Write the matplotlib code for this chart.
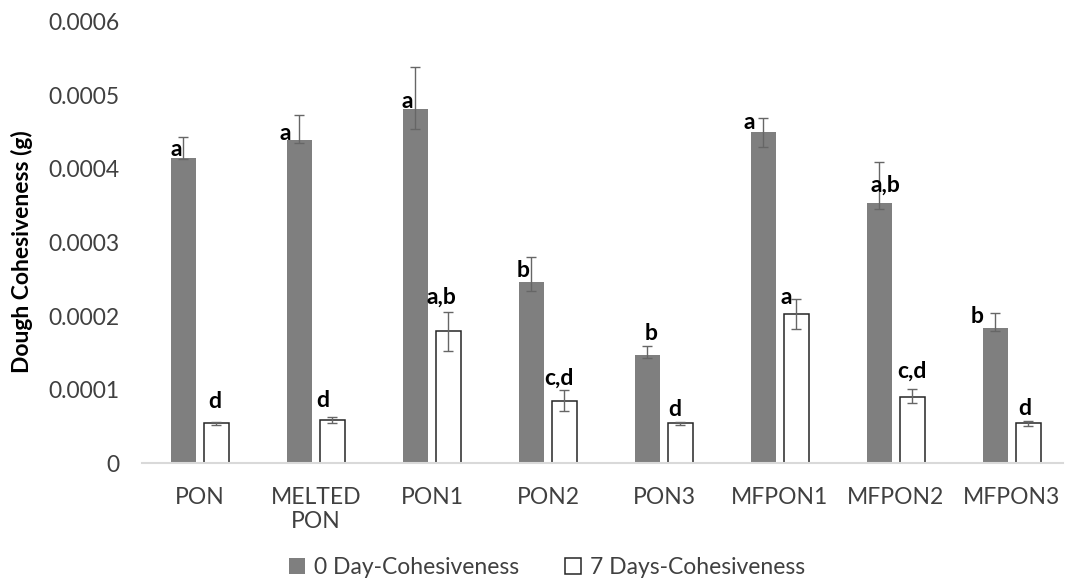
import numpy as np
import matplotlib.pyplot as plt
from matplotlib.ticker import FuncFormatter

plt.rcParams['font.family'] = ['Lato', 'DejaVu Sans']

# data (values in 1e-4 g)
categories = ["PON", "MELTED\nPON", "PON1", "PON2", "PON3", "MFPON1", "MFPON2", "MFPON3"]
day0 = [4.15, 4.39, 4.81, 2.46, 1.47, 4.50, 3.54, 1.84]
day0_err_lo = [0.02, 0.04, 0.27, 0.12, 0.04, 0.20, 0.09, 0.04]
day0_err_hi = [0.29, 0.34, 0.58, 0.34, 0.12, 0.20, 0.55, 0.20]
day7 = [0.54, 0.59, 1.79, 0.85, 0.54, 2.03, 0.90, 0.54]
day7_err_lo = [0.02, 0.04, 0.26, 0.14, 0.02, 0.20, 0.08, 0.03]
day7_err_hi = [0.02, 0.04, 0.26, 0.14, 0.02, 0.20, 0.11, 0.03]
day0_letters = ["a", "a", "a", "b", "b", "a", "a,b", "b"]
day7_letters = ["d", "d", "a,b", "c,d", "d", "a", "c,d", "d"]

# label offsets in pixels from bar top (hand placed like the original)
day0_off = [(-7, 8), (-14, 7), (-8, 8), (-8, 12), (4, 21), (-14, 10), (6, 18), (-18, 11)]
day7_off = [(-2, 22), (-10, 19), (-7, 34), (-5, 22), (-6, 14), (-10, 16), (0, 26), (-4, 15)]

scale = 1e-4
x = np.arange(len(categories))
w = 0.22
off = 0.142

fig = plt.figure(figsize=(10.65, 5.83), dpi=100)
ax = fig.add_axes([0.1333, 0.2058, 0.8647, 0.7565])

v0 = np.array(day0) * scale
v7 = np.array(day7) * scale
e0 = np.array([day0_err_lo, day0_err_hi]) * scale
e7 = np.array([day7_err_lo, day7_err_hi]) * scale

ekw = dict(ecolor="#666666", elinewidth=1.0, capsize=3.5, capthick=1.0)
ax.bar(x - off, v0, w, color="#7f7f7f", yerr=e0, error_kw=ekw,
       label="0 Day-Cohesiveness")
ax.bar(x + off, v7, w, color="white", edgecolor="#262626", linewidth=1.1,
       yerr=e7, error_kw=ekw, label="7 Days-Cohesiveness")

for i in range(len(categories)):
    ax.annotate(day0_letters[i], (x[i] - off, v0[i]), xytext=day0_off[i],
                textcoords="offset pixels", ha="center", va="center",
                fontsize=16.5, fontweight="bold", color="black")
    ax.annotate(day7_letters[i], (x[i] + off, v7[i]), xytext=day7_off[i],
                textcoords="offset pixels", ha="center", va="center",
                fontsize=16.5, fontweight="bold", color="black")

ax.set_xlim(-0.5, 7.44)
ax.set_ylim(0, 0.0006)
ax.set_yticks(np.arange(0, 0.00061, 0.0001))
ax.yaxis.set_major_formatter(FuncFormatter(lambda v, p: "0" if abs(v) < 1e-12 else f"{v:.4f}"))
ax.set_xticks(x)
ax.set_xticklabels(categories)
ax.tick_params(axis="both", length=0, labelsize=16.5, labelcolor="#404040")
ax.tick_params(axis="y", pad=16)
ax.tick_params(axis="x", pad=17)

for s in ["top", "right", "left"]:
    ax.spines[s].set_visible(False)
ax.spines["bottom"].set_color("#d9d9d9")
ax.spines["bottom"].set_linewidth(1.5)

ax.set_ylabel("Dough Cohesiveness (g)", fontsize=16.5, fontweight="bold")
ax.yaxis.set_label_coords(-0.118, 0.48)

ax.legend(loc="center", bbox_to_anchor=(0.44, -0.238), ncol=2, frameon=False,
          fontsize=16.5, handlelength=0.7, handleheight=0.7, handletextpad=0.4,
          columnspacing=2.0, labelcolor="#404040")

fig.savefig("out.png", dpi=100)
